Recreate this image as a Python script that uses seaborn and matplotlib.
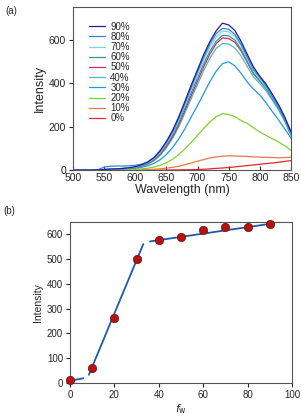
import numpy as np
import pandas as pd
import matplotlib
matplotlib.use('Agg')
import matplotlib.pyplot as plt
import seaborn as sns

# %%
# spectra, every 10 nm
wavelength = list(range(500, 851, 10))
labels = ['90%', '80%', '70%', '60%', '50%', '40%', '30%', '20%', '10%', '0%']

s90 = [0, 0, 0, 0, 1, 3, 5, 6, 8, 11, 16, 24, 37, 58, 90, 132, 183, 246, 318, 392,
       462, 532, 592, 641, 676, 668, 642, 592, 532, 474, 432, 396, 350, 302, 245, 178]
s80 = [0, 0, 0, 0, 2, 14, 18, 19, 19, 20, 22, 28, 38, 57, 87, 127, 176, 238, 308, 382,
       452, 520, 580, 628, 652, 648, 625, 578, 520, 462, 428, 388, 340, 292, 238, 170]
s70 = [0, 0, 0, 0, 1, 3, 5, 6, 8, 11, 15, 22, 34, 53, 82, 122, 170, 230, 300, 372,
       440, 508, 566, 612, 640, 636, 615, 570, 512, 456, 420, 382, 336, 290, 236, 168]
s60 = [0, 0, 0, 0, 1, 3, 4, 6, 7, 10, 14, 20, 31, 49, 77, 115, 162, 220, 288, 358,
       424, 490, 548, 593, 620, 618, 598, 555, 500, 446, 412, 375, 330, 284, 230, 165]
s50 = [0, 0, 0, 0, 1, 2, 4, 5, 7, 9, 13, 19, 29, 46, 72, 108, 153, 210, 276, 344,
       410, 476, 534, 582, 608, 605, 588, 548, 495, 442, 410, 378, 332, 288, 232, 166]
s40 = [0, 0, 0, 0, 1, 2, 4, 5, 6, 8, 12, 18, 27, 43, 68, 103, 146, 200, 264, 330,
       394, 458, 515, 560, 582, 580, 562, 525, 476, 428, 398, 365, 322, 278, 225, 160]
s30 = [0, 0, 0, 0, 1, 2, 3, 4, 5, 7, 9, 13, 20, 31, 48, 72, 104, 144, 192, 245,
       298, 352, 408, 455, 490, 498, 480, 445, 405, 372, 346, 310, 270, 232, 190, 148]
s20 = [0, 0, 0, 0, 0, 1, 1, 2, 2, 3, 4, 6, 9, 14, 22, 34, 50, 72, 98, 128,
       160, 192, 222, 246, 260, 256, 246, 228, 215, 195, 175, 160, 145, 130, 112, 92]
s10 = [0, 0, 0, 0, 0, 0, 0, 0, 0, 1, 1, 2, 3, 4, 6, 9, 13, 18, 25, 33,
       41, 49, 56, 61, 64, 66, 65, 64, 63, 61, 60, 59, 58, 57, 58, 60]
s0 = [0, 0, 0, 0, 0, 0, 0, 0, 0, 0, 0, 0, 0, 0, 0, 0, 1, 1, 2, 2,
      3, 4, 6, 8, 10, 12, 15, 18, 21, 24, 27, 30, 33, 36, 40, 44]

colors = ['#1a1f9c', '#3c7fe0', '#7fd9c8', '#2a9d9a', '#d42a5a',
          '#4cb8c8', '#1e9ae0', '#7cd42a', '#e8784a', '#e62828']

# panel (b) data
fw = [0, 10, 20, 30, 40, 50, 60, 70, 80, 90]
peak = [10, 61, 263, 500, 577, 588, 618, 629, 630, 642]

# fitted lines in panel (b)
fit1_x, fit1_y = [0, 6], [8, 18]
fit2_x, fit2_y = [8.5, 33], [32, 561]
fit3_x, fit3_y = [36, 90], [572, 643]

# %%
series = [s90, s80, s70, s60, s50, s40, s30, s20, s10, s0]
df = pd.DataFrame({
    'wavelength': wavelength * len(labels),
    'intensity': np.concatenate(series),
    'fw': np.repeat(labels, len(wavelength)),
})

sns.set_style('ticks')
plt.rcParams['font.family'] = ['Liberation Sans', 'DejaVu Sans']
plt.rcParams['axes.edgecolor'] = '#555555'
plt.rcParams['axes.linewidth'] = 0.8

fig = plt.figure(figsize=(3.01, 4.16), dpi=100)
ax1 = fig.add_axes([0.2425, 0.591, 0.724, 0.392])
ax2 = fig.add_axes([0.2326, 0.080, 0.7375, 0.386])

# draw 0% first so 90% lands on top
for i in reversed(range(len(labels))):
    sns.lineplot(data=df[df['fw'] == labels[i]], x='wavelength', y='intensity',
                 color=colors[i], lw=0.9, ax=ax1, label=labels[i], zorder=20 - i)

handles, leg_labels = ax1.get_legend_handles_labels()
ax1.legend(handles[::-1], leg_labels[::-1], loc='upper left', frameon=False,
           fontsize=7, handlelength=1.7, labelspacing=0.02, borderaxespad=0.0,
           bbox_to_anchor=(0.055, 0.935), handletextpad=0.5)
ax1.set_xlim(500, 850)
ax1.set_ylim(0, 750)
ax1.set_xticks(range(500, 851, 50))
ax1.set_yticks([0, 200, 400, 600])
ax1.tick_params(axis='x', direction='in', labelsize=7.5, length=3, pad=2)
ax1.tick_params(axis='y', direction='out', labelsize=7.5, length=3, pad=2)
ax1.set_xlabel('Wavelength (nm)', fontsize=9, labelpad=1)
ax1.set_ylabel('Intensity', fontsize=9, labelpad=2)
fig.text(0.017, 0.985, '(a)', fontsize=7, va='top')

# %%
line_color = '#1f5aa6'
sns.lineplot(x=fit1_x, y=fit1_y, color=line_color, lw=1.3, ax=ax2)
sns.lineplot(x=fit2_x, y=fit2_y, color=line_color, lw=1.3, ax=ax2)
sns.lineplot(x=fit3_x, y=fit3_y, color=line_color, lw=1.3, ax=ax2)
sns.scatterplot(x=fw, y=peak, color='#b01414', edgecolor='#7a0a0a', s=36,
                linewidth=0.5, ax=ax2, zorder=5, clip_on=False)
ax2.set_xlim(0, 100)
ax2.set_ylim(0, 650)
ax2.set_xticks(range(0, 101, 20))
ax2.set_yticks(range(0, 601, 100))
ax2.tick_params(labelsize=7, length=3, pad=2)
ax2.set_xlabel(r'$f_{\rm w}$', fontsize=8, labelpad=2)
ax2.set_ylabel('Intensity', fontsize=7.5, labelpad=3)
fig.text(0.01, 0.505, '(b)', fontsize=7, va='top')

fig.savefig('out.png', dpi=100)
